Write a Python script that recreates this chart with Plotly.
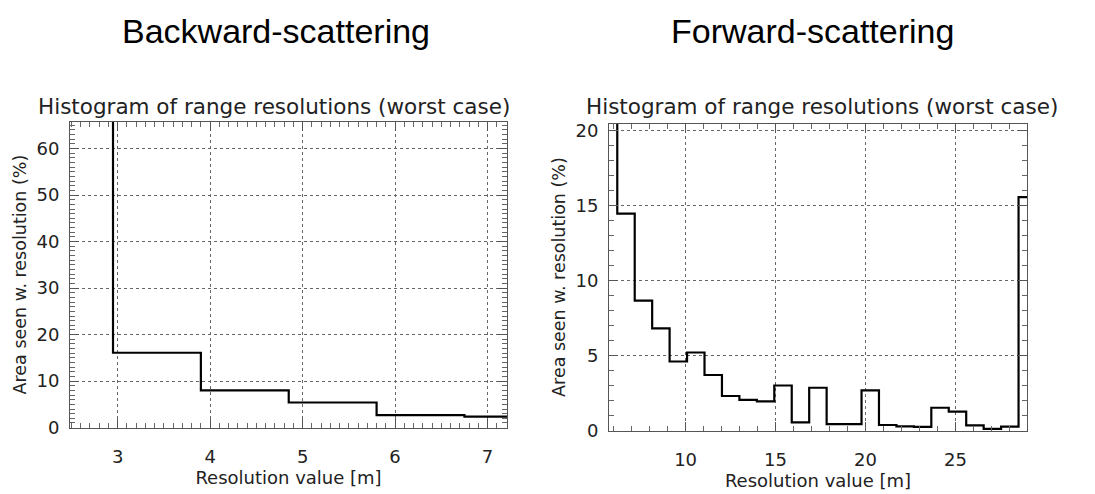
import plotly.graph_objects as go

# ---------------- data ----------------
# Backward-scattering histogram (bin edges in m, values in %)
back_edges = [2.00, 2.95, 3.90, 4.85, 5.80, 6.75, 7.70]
back_values = [70.0, 16.1, 8.0, 5.4, 2.7, 2.35]

# Forward-scattering histogram
fwd_edges = [5.23, 6.20, 7.17, 8.14, 9.11, 10.08, 11.05, 12.02, 12.99, 13.96,
             14.93, 15.90, 16.87, 17.84, 18.81, 19.78, 20.75, 21.72, 22.69,
             23.66, 24.63, 25.60, 26.57, 27.54, 28.51, 29.48]
fwd_values = [22.0, 14.45, 8.65, 6.8, 4.6, 5.2, 3.7, 2.3, 2.05, 1.95,
              3.0, 0.55, 2.85, 0.43, 0.43, 2.68, 0.37, 0.28, 0.24,
              1.52, 1.26, 0.35, 0.11, 0.26, 15.55]

back_xticks = [3, 4, 5, 6, 7]
back_yticks = [0, 10, 20, 30, 40, 50, 60]
fwd_xticks = [10, 15, 20, 25]
fwd_yticks = [0, 5, 10, 15, 20]

main_titles = ["Backward-scattering", "Forward-scattering"]
sub_title = "Histogram of range resolutions (worst case)"
x_title = "Resolution value [m]"
y_title = "Area seen w. resolution (%)"

W, H = 1095, 494
TICKFONT = dict(family="DejaVu Sans", size=18, color="#222")
XTITLEFONT = dict(family="DejaVu Sans", size=18, color="#222")
YTITLEFONT = dict(family="DejaVu Sans", size=17.5, color="#222")


def step_xy(edges, values):
    return list(edges), list(values) + [values[-1]]


fig = go.Figure()

bx, by = step_xy(back_edges, back_values)
fig.add_trace(go.Scatter(x=bx, y=by, mode="lines", line=dict(shape="hv", color="black", width=2.2),
                         xaxis="x", yaxis="y", showlegend=False, hoverinfo="skip"))
fx, fy = step_xy(fwd_edges, fwd_values)
fig.add_trace(go.Scatter(x=fx, y=fy, mode="lines", line=dict(shape="hv", color="black", width=2.2),
                         xaxis="x2", yaxis="y2", showlegend=False, hoverinfo="skip"))


def px_dom_x(a, b):
    return [a / W, b / W]


def px_dom_y(top, bottom):
    return [1 - bottom / H, 1 - top / H]


common = dict(showline=True, linecolor="#555", linewidth=1, mirror="allticks",
              ticks="inside", ticklen=9, tickcolor="#555", tickwidth=1,
              showgrid=True, gridcolor="#666", griddash="dot", gridwidth=1,
              zeroline=False, tickfont=TICKFONT)
minor_common = dict(ticks="inside", ticklen=5, tickcolor="#666", showgrid=False)

fig.update_layout(
    width=W, height=H,
    margin=dict(l=0, r=0, t=0, b=0),
    paper_bgcolor="white", plot_bgcolor="white",
    xaxis=dict(domain=px_dom_x(70, 507), range=[2.485, 7.21], tickvals=back_xticks,
               minor=dict(dtick=0.1, **minor_common),
               title=dict(text=x_title, font=XTITLEFONT, standoff=2),
               anchor="y", ticklabelstandoff=13, **common),
    yaxis=dict(domain=px_dom_y(121, 436), range=[0, 65.8], tickvals=back_yticks,
               minor=dict(dtick=1, **minor_common),
               title=dict(text=y_title, font=YTITLEFONT, standoff=5),
               anchor="x", ticklabelstandoff=6, **common),
    xaxis2=dict(domain=px_dom_x(609, 1027), range=[5.74, 28.98], tickvals=fwd_xticks,
                minor=dict(dtick=1, **minor_common),
                title=dict(text=x_title, font=XTITLEFONT, standoff=2),
                anchor="y2", ticklabelstandoff=13, **common),
    yaxis2=dict(domain=px_dom_y(123, 439), range=[0, 20.45], tickvals=fwd_yticks,
                minor=dict(dtick=1, **minor_common),
                title=dict(text=y_title, font=YTITLEFONT, standoff=5),
                anchor="x2", ticklabelstandoff=6, **common),
)

annotations = [
    dict(text=main_titles[0], x=276 / W, y=1 - 28 / H, xref="paper", yref="paper",
         xanchor="center", yanchor="middle", showarrow=False,
         font=dict(family="Liberation Sans", size=34, color="black")),
    dict(text=main_titles[1], x=813 / W, y=1 - 28 / H, xref="paper", yref="paper",
         xanchor="center", yanchor="middle", showarrow=False,
         font=dict(family="Liberation Sans", size=34, color="black")),
    dict(text=sub_title, x=274 / W, y=1 - 105 / H, xref="paper", yref="paper",
         xanchor="center", yanchor="middle", showarrow=False,
         font=dict(family="DejaVu Sans", size=21.5, color="#222")),
    dict(text=sub_title, x=822 / W, y=1 - 105 / H, xref="paper", yref="paper",
         xanchor="center", yanchor="middle", showarrow=False,
         font=dict(family="DejaVu Sans", size=21.5, color="#222")),
]
fig.update_layout(annotations=annotations)

fig.write_html("out.html")
